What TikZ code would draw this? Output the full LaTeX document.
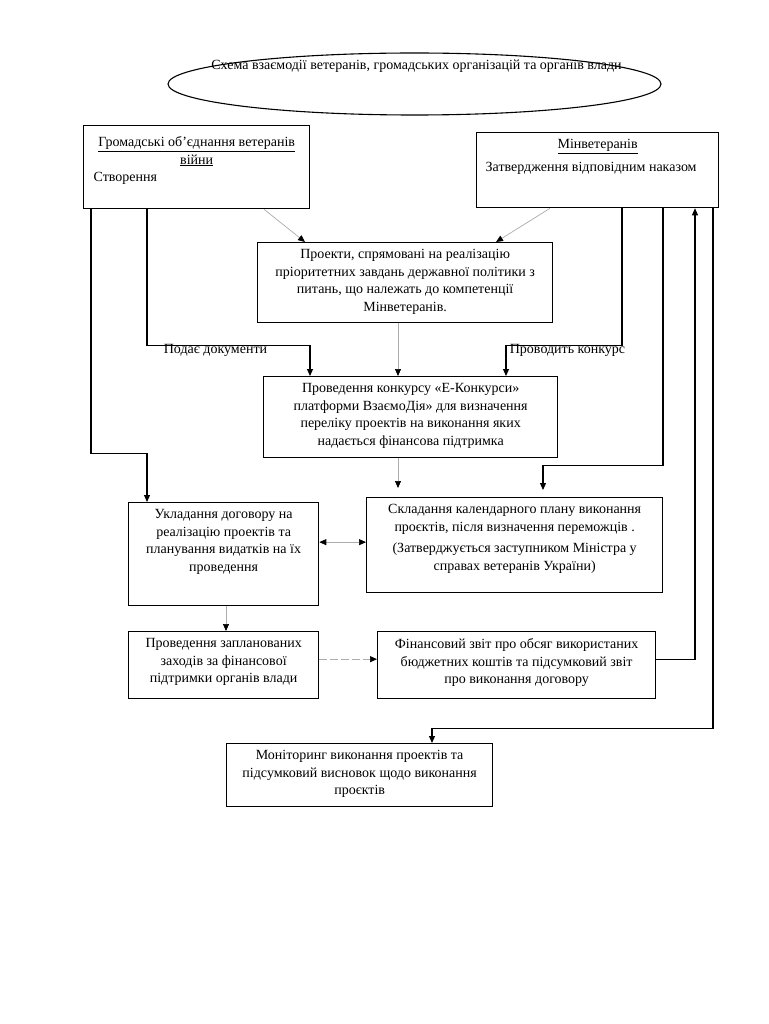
\documentclass[tikz,border=0pt]{standalone}
\usepackage{fontspec}
\setmainfont{Liberation Serif}
\usetikzlibrary{arrows.meta,shapes.geometric}
\newcommand{\blocktext}[3]{\parbox[c][\dimexpr#2-14pt\relax][t]{#1}{\centering #3}}

\begin{document}
\begin{tikzpicture}
		[x=1pt,y=-1pt,
		every node/.style={font=\fontsize{14}{17.5}\selectfont},
		block/.style={draw,line width=1.3pt,anchor=north west,inner xsep=0pt,inner ysep=7pt},
		link/.style={line width=1.1pt,-{Triangle[length=7pt,width=6pt]}},
		soft/.style={draw=gray!65,line width=0.7pt,-{Triangle[length=7pt,width=6pt,color=black]}}]
		\fill[white] (0,0) rectangle (768,1024);
		\useasboundingbox (0,0) rectangle (768,1024);
		\node[ellipse,draw,line width=1.1pt,minimum width=493pt,minimum height=62pt,inner sep=0pt] (oval) at (414.5,84) {};
		\node (title) at (416.5,66) {Схема взаємодії ветеранів, громадських організацій та органів влади};
		\node[block,inner xsep=10pt,inner ysep=11pt] (gromad) at (83,125)
			{\parbox[c][61pt][t]{206pt}{{\centering\underline{Громадські об’єднання ветеранів}\\\underline{війни}\par}\raggedright Створення}};
		\node[block,inner xsep=9pt] (minvet) at (476,132)
			{\parbox[c][61pt][t]{224pt}{{\centering\underline{Мінветеранів}\par}\vspace{5pt}\raggedright Затвердження відповідним наказом}};
		\node[block] (proj) at (257,242)
			{\blocktext{295pt}{80pt}{Проекти,  спрямовані на реалізацію\\ пріоритетних завдань державної політики з\\ питань, що належать до компетенції\\ Мінветеранів.}};
		\node[block] (konkurs) at (263,376)
			{\blocktext{294pt}{81pt}{Проведення конкурсу «Е-Конкурси»\\ платформи ВзаємоДія» для визначення\\ переліку проектів на  виконання яких\\ надається фінансова підтримка}};
		\node[block] (dogovir) at (128,502)
			{\blocktext{190pt}{103pt}{Укладання договору на\\ реалізацію  проектів та\\ планування видатків на їх\\ проведення}};
		\node[block] (kalendar) at (366,497)
			{\blocktext{296pt}{95pt}{Складання календарного плану виконання\\ проєктів, після визначення переможців .\\[4pt] (Затверджується заступником Міністра у\\ справах ветеранів України)}};
		\node[block] (zahody) at (128,631)
			{\blocktext{190pt}{67pt}{Проведення запланованих\\ заходів за фінансової\\ підтримки органів влади}};
		\node[block] (zvit) at (377,631)
			{\blocktext{278pt}{67pt}{Фінансовий звіт про обсяг використаних\\ бюджетних коштів та підсумковий звіт\\ про виконання договору}};
		\node[block] (monitor) at (226,743)
			{\blocktext{266pt}{63pt}{Моніторинг виконання проектів та\\ підсумковий висновок щодо виконання\\ проєктів}};
		\node (podae) at (215.5,350) {Подає документи};
		\node (provodyt) at (567.5,350) {Проводить конкурс};
		\draw[soft] ([xshift=181pt]gromad.south west) -- ([xshift=48pt]proj.north west);
		\draw[soft] ([xshift=74pt]minvet.south west) -- ([xshift=239pt]proj.north west);
		\draw[soft] ([xshift=141pt]proj.south west) -- ([xshift=135pt]konkurs.north west);
		\draw[link] ([xshift=64pt]gromad.south west) -- ++(0,136) -| ([xshift=47pt]konkurs.north west);
		\draw[link] ([xshift=146pt]minvet.south west) -- ++(0,137) -| ([xshift=243pt]konkurs.north west);
		\draw[link] ([xshift=8pt]gromad.south west) -- ++(0,244) -| ([xshift=19pt]dogovir.north west);
		\draw[soft,shorten >=9pt] ([xshift=135pt]konkurs.south west) -- ([xshift=32pt]kalendar.north west);
		\draw[link,shorten >=7pt] ([xshift=187pt]minvet.south west) -- ++(0,257) -| ([xshift=177pt]kalendar.north west);
		\draw[soft,{Triangle[length=7pt,width=6pt,color=black]}-{Triangle[length=7pt,width=6pt,color=black]}]
			([yshift=12pt]dogovir.east) -- ([yshift=12pt]dogovir.east -| kalendar.west);
		\draw[soft] ([xshift=98pt]dogovir.south west) -- ([xshift=98pt]zahody.north west);
		\draw[soft,dash pattern=on 8pt off 3pt] ([yshift=6pt]zahody.east) -- ([yshift=6pt]zvit.west);
		\draw[link] ([yshift=6pt]zvit.east) -| ([xshift=219pt]minvet.south west);
		\draw[link] ([xshift=237pt]minvet.south west) -- ++(0,520) -| ([xshift=206pt]monitor.north west);
	\end{tikzpicture}
\end{document}
